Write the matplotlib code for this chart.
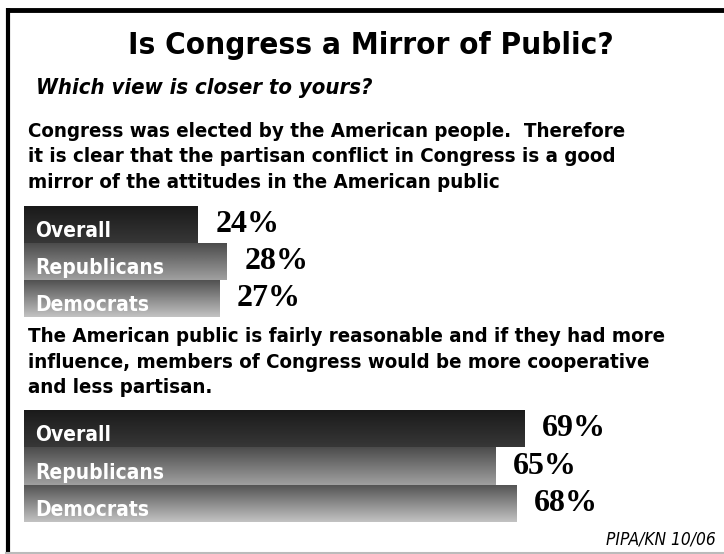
import numpy as np
import matplotlib.pyplot as plt
from matplotlib.colors import to_rgb

# data
groups = ["Overall", "Republicans", "Democrats"]
mirror_pct = [24, 28, 27]       # partisan conflict mirrors the public
reasonable_pct = [69, 65, 68]   # public more reasonable than Congress

title = "Is Congress a Mirror of Public?"
subtitle = "Which view is closer to yours?"
statement1 = ("Congress was elected by the American people.  Therefore\n"
              "it is clear that the partisan conflict in Congress is a good\n"
              "mirror of the attitudes in the American public")
statement2 = ("The American public is fairly reasonable and if they had more\n"
              "influence, members of Congress would be more cooperative\n"
              "and less partisan.")
source = "PIPA/KN 10/06"

# gradient (top, bottom) for each group's bar
grad = {"Overall": ("#1a1a1a", "#373737"),
        "Republicans": ("#4c4c4c", "#a0a0a0"),
        "Democrats": ("#525252", "#c2c2c2")}

W, H = 724, 554
SANS = ["DejaVu Sans"]
SERIF = ["Liberation Serif", "DejaVu Serif"]
ST = "condensed"

fig = plt.figure(figsize=(W / 100, H / 100), dpi=100)
fig.patch.set_facecolor("white")

# overlay in pixel coords for frame and text
bg = fig.add_axes([0, 0, 1, 1])
bg.set_xlim(0, W)
bg.set_ylim(H, 0)
bg.axis("off")

bg.plot([6, W], [10, 10], color="black", lw=3.5, solid_capstyle="butt")
bg.plot([7.5, 7.5], [8, 553], color="black", lw=3, solid_capstyle="butt")
bg.plot([6, W], [552.5, 552.5], color="#bbbbbb", lw=1.5)

bg.text(371, 45, title, ha="center", va="center", fontsize=22.5,
        fontweight="bold", family=SANS, fontstretch=ST)
bg.text(36, 88, subtitle, ha="left", va="center", fontsize=15.8,
        fontweight="bold", style="italic", family=SANS, fontstretch=ST)
bg.text(28, 157, statement1, ha="left", va="center", fontsize=14.7,
        fontweight="bold", family=SANS, linespacing=1.43, fontstretch=ST)
bg.text(28, 362, statement2, ha="left", va="center", fontsize=14.7,
        fontweight="bold", family=SANS, linespacing=1.43, fontstretch=ST)
bg.text(716, 539, source, ha="right", va="center", fontsize=12.4,
        style="italic", family=SANS, fontstretch=ST)


def draw_group(top_px, bot_px, values):
    ax = fig.add_axes([24 / W, 1 - bot_px / H, 580 / W, (bot_px - top_px) / H])
    ax.axis("off")
    ypos = np.arange(len(groups))[::-1]
    bars = ax.barh(ypos, values, height=1.0, color="none", edgecolor="none")
    for g, v, y, b in zip(groups, values, ypos, bars):
        c0, c1 = np.array(to_rgb(grad[g][0])), np.array(to_rgb(grad[g][1]))
        t = np.linspace(0, 1, 64)[:, None, None]
        img = np.repeat(c0 + (c1 - c0) * t, 2, axis=1)
        im = ax.imshow(img, extent=(0, v, y - 0.5, y + 0.5), origin="upper",
                       aspect="auto", interpolation="bilinear", zorder=1)
        im.set_clip_path(b)
        ax.annotate(g, xy=(0, y - 0.5), xytext=(8, 4.3), textcoords="offset points",
                    ha="left", va="baseline", color="white", fontsize=15,
                    fontweight="bold", family=SANS, fontstretch=ST, zorder=3)
        ax.annotate(f"{v}%", xy=(v, y), xytext=(12.5, 0), textcoords="offset points",
                    ha="left", va="center", color="black", fontsize=23,
                    fontweight="bold", family=SERIF, zorder=3)
    ax.set_xlim(0, 80)
    ax.set_ylim(-0.5, len(groups) - 0.5)


draw_group(206, 317, mirror_pct)
draw_group(410, 522, reasonable_pct)

fig.savefig("out.png", dpi=100)
